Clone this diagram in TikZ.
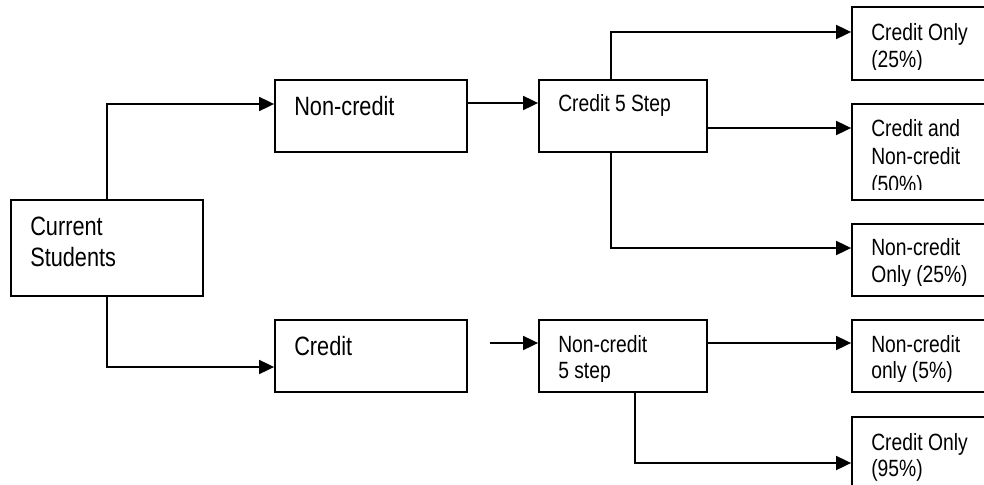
\documentclass[tikz,border=0pt]{standalone}
\usepackage{fontspec}
\setmainfont{Liberation Sans}[FakeStretch=0.82]
\usetikzlibrary{arrows.meta}

% #1 box node, #2 label node name, #3 drop of first baseline, #4 text style, #5 text
\newcommand\boxlabel[5]{%
  \begin{scope}
    \clip (#1.north west) rectangle ([yshift=11.5pt]#1.south east);
    \node[#4, anchor=base west] (#2) at ([xshift=20pt,yshift=-#3pt]#1.north west)
      {\parbox[t]{200pt}{\raggedright #5}};
  \end{scope}}

\begin{document}
\begin{tikzpicture}[x=1pt,y=-1pt,
  box/.style={draw, line width=1.8pt, rectangle, inner sep=0pt},
  bigtxt/.style={font=\fontsize{26.5}{30.7}\selectfont, inner sep=0pt},
  smalltxt/.style={font=\fontsize{23.5}{26.5}\selectfont, inner sep=0pt},
  arr/.style={line width=1.8pt, -{Triangle[length=15pt,width=14pt]}}]

\useasboundingbox (0,0) rectangle (984,484);
\clip (0,0) rectangle (984,484);

% boxes
\node[box, minimum width=192pt, minimum height=96pt] (cs) at (107,248) {};
\node[box, minimum width=192pt, minimum height=72pt] (nc) at (371,116) {};
\node[box, minimum width=192pt, minimum height=72pt] (cr) at (371,356) {};
\node[box, minimum width=168pt, minimum height=72pt] (c5) at (623,116) {};
\node[box, minimum width=168pt, minimum height=72pt] (n5) at (623,356) {};
\node[box, minimum width=148pt, minimum height=73pt] (r1) at (926,43.5) {};
\node[box, minimum width=148pt, minimum height=96pt] (r2) at (926,152) {};
\node[box, minimum width=148pt, minimum height=72pt] (r3) at (926,260) {};
\node[box, minimum width=148pt, minimum height=72pt] (r4) at (926,356) {};
\node[box, minimum width=148pt, minimum height=92pt] (r5) at (926,463) {};

% texts
\boxlabel{cs}{cs-t}{36.7}{bigtxt}{Current\\Students}
\boxlabel{nc}{nc-t}{36.7}{bigtxt}{Non-credit}
\boxlabel{cr}{cr-t}{36}{bigtxt}{Credit}
\boxlabel{c5}{c5-t}{32.5}{smalltxt}{Credit 5 Step}
\boxlabel{n5}{n5-t}{33.3}{smalltxt}{Non-credit\\5 step}
\boxlabel{r1}{r1-t}{34.5}{smalltxt}{Credit Only\\(25\%)}
\boxlabel{r2}{r2-t}{33.5}{smalltxt}{Credit and\\[1.2pt]Non-credit\\[1.2pt](50\%)}
\boxlabel{r3}{r3-t}{32.7}{smalltxt}{Non-credit\\Only (25\%)}
\boxlabel{r4}{r4-t}{33}{smalltxt}{Non-credit\\only (5\%)}
\boxlabel{r5}{r5-t}{34}{smalltxt}{Credit Only\\(95\%)}

% connectors
\draw[arr] (cs.north) |- ([yshift=12pt]nc.west);
\draw[arr] (cs.south) |- ([yshift=-11pt]cr.west);
\draw[arr] ([yshift=13pt]nc.east) -- ([yshift=13pt]c5.west);
\draw[arr] ([xshift=-12pt]c5.north) |- ([yshift=11.5pt]r1.west);
\draw[arr] ([yshift=-12pt]c5.east) -- ([yshift=24pt]r2.west);
\draw[arr] ([xshift=-12pt]c5.south) |- ([yshift=12pt]r3.west);
\coordinate (feed) at (490,343);
\draw[arr] (feed) -- ([yshift=13pt]n5.west);
\draw[arr] ([yshift=13pt]n5.east) -- ([yshift=13pt]r4.west);
\draw[arr] ([xshift=12pt]n5.south) |- (r5.west);
\end{tikzpicture}
\end{document}
